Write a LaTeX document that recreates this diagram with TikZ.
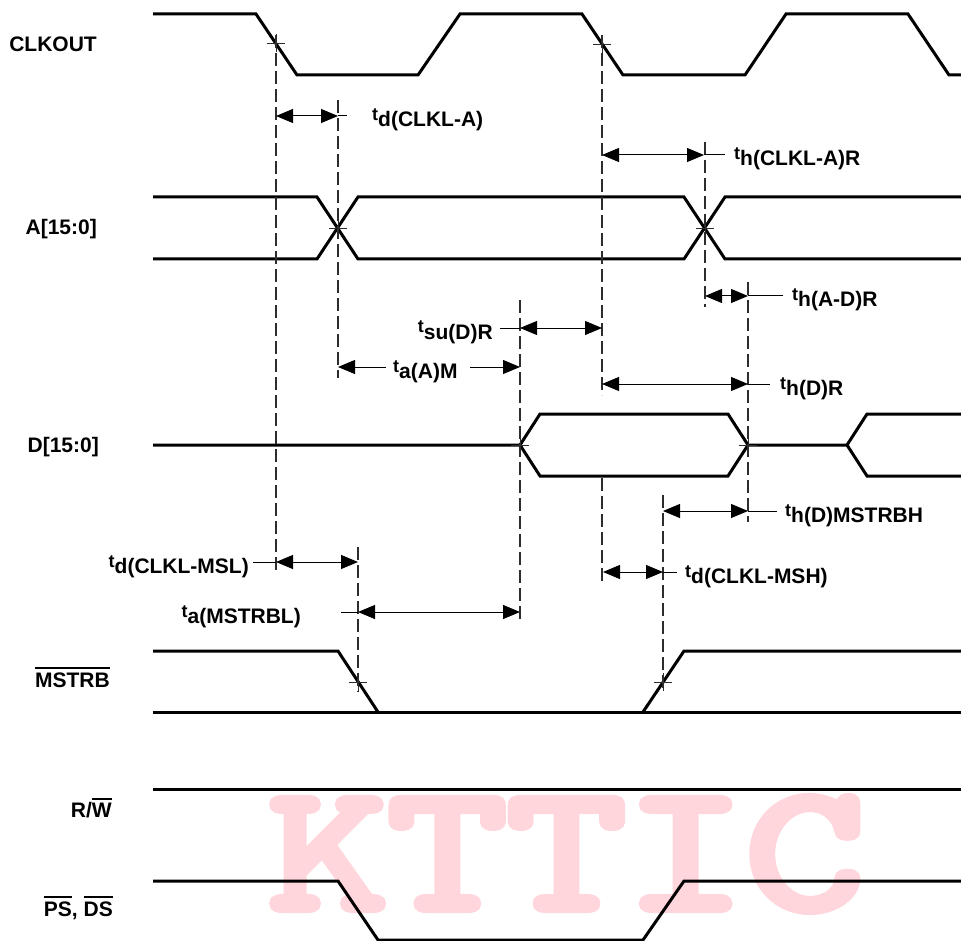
\documentclass[tikz,border=0pt]{standalone}
\usepackage{fontspec}
\setmainfont{Liberation Sans}
\newfontfamily\wmfont{Latin Modern Mono}[FakeBold=4.5]
\usetikzlibrary{arrows.meta}
\definecolor{wmpink}{RGB}{255,214,220}
\definecolor{dimgrey}{RGB}{45,45,45}
\newcommand\tlab[1]{{\fontsize{18}{18}\selectfont t}\raisebox{-6pt}{\fontsize{21}{21}\selectfont #1}}
\newcommand\ovl[1]{\leavevmode\vbox{\hrule height 2pt\kern 3pt\hbox{#1}}}
\begin{document}
\begin{tikzpicture}[x=1pt,y=-1pt,
  sig/.style={line width=3pt, line join=miter},
  dsh/.style={dimgrey, line width=1.1pt, dash pattern=on 13pt off 5pt},
  dimarr/.style={line width=1pt, {Triangle[length=17pt,width=14pt]}-{Triangle[length=17pt,width=14pt]}},
  ext/.style={line width=1pt},
  tickmark/.style={line width=0.8pt, dimgrey},
  lbl/.style={font=\bfseries\fontsize{21}{21}\selectfont, inner sep=0pt},
  tl/.style={font=\bfseries, inner sep=0pt}]
\useasboundingbox (0,0) rectangle (961,941);
% watermark
\node[text=wmpink, inner sep=0pt, anchor=base] (wm) at (566.5,909) {\resizebox{596pt}{112pt}{\wmfont KTTIC}};
% signal names
\node[lbl, anchor=base east] (lclk) at (97,51.5) {CLKOUT};
\node[lbl, anchor=base east] (la) at (97,235) {A[15:0]};
\node[lbl, anchor=base east] (ld) at (99,452) {D[15:0]};
\node[lbl, anchor=base east] (lms) at (110,687) {\ovl{MSTRB}};
\node[lbl, anchor=base east] (lrw) at (112,817) {R/\ovl{W}};
\node[lbl, anchor=base east] (lps) at (113,916) {\ovl{PS}, \ovl{DS}};
% waveforms
\draw[sig] (153,14) -- (256,14) -- (297,75) -- (418,75) -- (460,14) -- (582,14) -- (623,75) -- (745,75) -- (786,14) -- (908,14) -- (949,75) -- (961,75);
\draw[sig] (153,197) -- (317,197) -- (358,259) -- (684,259) -- (725,197) -- (961,197);
\draw[sig] (153,259) -- (317,259) -- (358,197) -- (684,197) -- (725,259) -- (961,259);
\draw[sig] (153,445) -- (520,445) -- (540,414) -- (728,414) -- (748,445) -- (847,445) -- (867,414) -- (961,414);
\draw[sig] (520,445) -- (540,476) -- (728,476) -- (748,445);
\draw[sig] (847,445) -- (867,476) -- (961,476);
\draw[sig] (153,651) -- (338,651) -- (378,712);
\draw[sig] (153,712) -- (961,712);
\draw[sig] (643,712) -- (684,651) -- (961,651);
\draw[sig] (153,789) -- (961,789);
\draw[sig] (153,881) -- (338,881) -- (378,940) -- (643,940) -- (684,881) -- (961,881);
% dashed reference lines
\draw[dsh] (276,35) -- (276,573);
\draw[dsh] (338,100) -- (338,378);
\draw[dsh] (602,35) -- (602,395);
\draw[dsh] (602,478) -- (602,583);
\draw[dsh] (705,142) -- (705,307);
\draw[dsh] (748,282) -- (748,522);
\draw[dsh] (520,300) -- (520,622);
\draw[dsh] (358,547) -- (358,692);
\draw[dsh] (663,495) -- (663,692);
% crossing marks
\foreach \x/\y in {276/43, 602/44, 338/228, 705/228, 358/682, 663/682, 520/445, 748/445}
  {\draw[tickmark] (\x-9,\y) -- (\x+9,\y) (\x,\y-9) -- (\x,\y+9);}
% timing arrows
\draw[dimarr] (276,116) -- (338,116); \draw[ext] (338,116) -- (347,116);
\draw[dimarr] (602,155) -- (704,155); \draw[ext] (704,155) -- (725,155);
\draw[dimarr] (705,296) -- (748,296); \draw[ext] (748,296) -- (783,296);
\draw[dimarr] (520,328) -- (602,328); \draw[ext] (500,328) -- (520,328);
\draw[ext, {Triangle[length=17pt,width=14pt]}-] (338,367) -- (386,367);
\draw[ext, -{Triangle[length=17pt,width=14pt]}] (470,367) -- (520,367);
\draw[dimarr] (602,384) -- (748,384); \draw[ext] (748,384) -- (770,384);
\draw[dimarr] (663,511) -- (748,511); \draw[ext] (748,511) -- (777,511);
\draw[dimarr] (276,562) -- (358,562); \draw[ext] (253,562) -- (276,562);
\draw[dimarr] (358,612) -- (520,612); \draw[ext] (341,612) -- (358,612);
\draw[dimarr] (603,572) -- (663,572); \draw[ext] (663,572) -- (677,572);
% timing labels
\node[tl, anchor=base west] (t1) at (372,121) {\tlab{d(CLKL-A)}};
\node[tl, anchor=base west] (t2) at (734,160) {\tlab{h(CLKL-A)R}};
\node[tl, anchor=base west] (t3) at (792,301) {\tlab{h(A-D)R}};
\node[tl, anchor=base east] (t4) at (493,333) {\tlab{su(D)R}};
\node[tl, anchor=base west] (t5) at (393,372) {\tlab{a(A)M}};
\node[tl, anchor=base west] (t6) at (780,389) {\tlab{h(D)R}};
\node[tl, anchor=base west] (t7) at (785,516) {\tlab{h(D)MSTRBH}};
\node[tl, anchor=base east] (t8) at (249,567) {\tlab{d(CLKL-MSL)}};
\node[tl, anchor=base east] (t9) at (301,617) {\tlab{a(MSTRBL)}};
\node[tl, anchor=base west] (t10) at (685,577) {\tlab{d(CLKL-MSH)}};
\end{tikzpicture}
\end{document}
